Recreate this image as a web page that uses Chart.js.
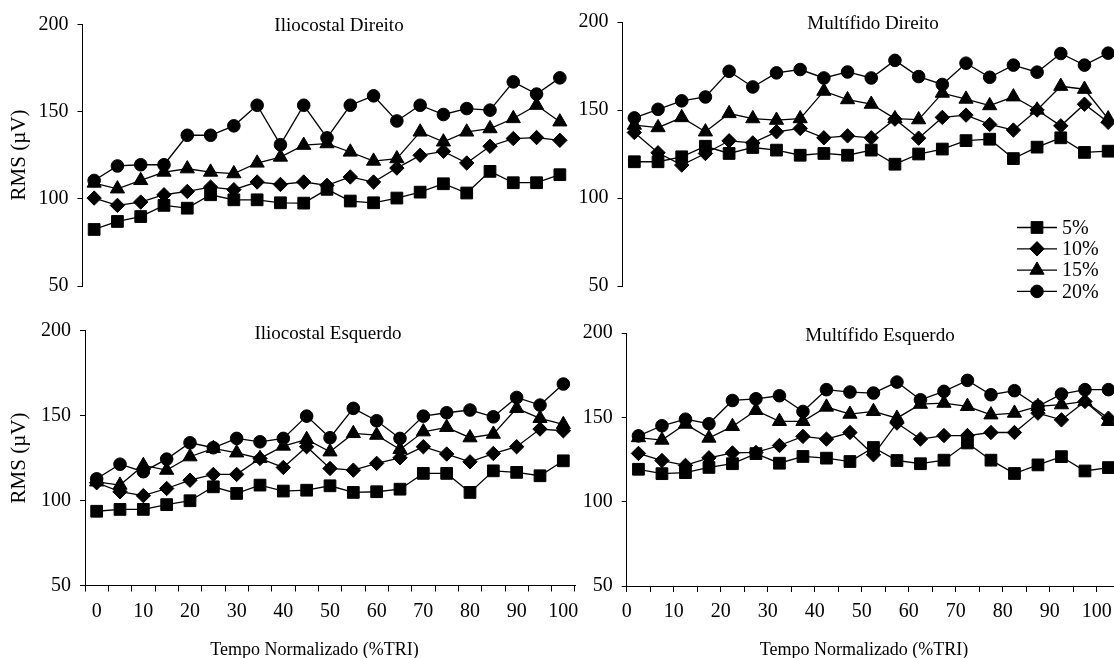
<!DOCTYPE html>
<html lang="pt">
<head>
<meta charset="utf-8">
<title>RMS x Tempo Normalizado</title>
<script src="https://cdn.jsdelivr.net/npm/chart.js@4.4.1/dist/chart.umd.min.js"></script>
<style>
  html, body { margin: 0; padding: 0; background: #fff; }
  body { width: 1114px; height: 658px; overflow: hidden; position: relative; }
  canvas { position: absolute; }
</style>
</head>
<body>
<canvas id="iliocostalDireito"></canvas>
<canvas id="multifidoDireito"></canvas>
<canvas id="iliocostalEsquerdo"></canvas>
<canvas id="multifidoEsquerdo"></canvas>
<script>
// Tempo normalizado (% TRI), em passos de 5 %
const tempo = [0, 5, 10, 15, 20, 25, 30, 35, 40, 45, 50, 55, 60, 65, 70, 75, 80, 85, 90, 95, 100];
const passo = 5;
const niveis = ['5%', '10%', '15%', '20%'];
const yTicks = [50, 100, 150, 200];

// RMS (µV) — Iliocostal Direito
const iliocostalDireito5  = [82.4, 87.0, 89.8, 96.2, 94.6, 102.3, 99.4, 99.4, 97.7, 97.5, 105.4, 98.7, 97.7, 100.4, 103.8, 108.6, 103.3, 115.7, 109.2, 109.2, 113.8];
const iliocostalDireito10 = [100.4, 96.2, 98.1, 102.3, 104.2, 106.7, 105.2, 109.6, 108.2, 109.6, 107.7, 112.5, 109.6, 117.6, 124.9, 127.2, 120.5, 130.1, 134.5, 135.1, 133.5];
const iliocostalDireito15 = [109.0, 105.7, 110.5, 115.3, 117.2, 115.3, 114.4, 120.5, 123.9, 130.7, 131.6, 126.8, 121.6, 123.0, 138.3, 132.6, 138.3, 140.2, 146.0, 153.6, 144.1];
const iliocostalDireito20 = [110.5, 118.8, 119.5, 119.5, 136.4, 136.4, 141.8, 153.6, 131.0, 153.6, 134.9, 153.6, 159.0, 144.6, 153.6, 148.3, 151.7, 150.8, 167.0, 160.0, 169.3];

// RMS (µV) — Multífido Direito
const multifidoDireito5  = [120.6, 120.6, 123.4, 129.4, 125.3, 128.7, 127.2, 124.3, 125.3, 124.3, 127.2, 119.2, 125.0, 127.8, 132.6, 133.4, 122.4, 128.9, 134.2, 125.9, 126.6];
const multifidoDireito10 = [137.2, 125.7, 118.7, 125.3, 132.5, 131.3, 137.6, 139.5, 134.2, 135.3, 134.2, 144.8, 134.0, 145.8, 147.1, 141.8, 138.6, 150.0, 141.0, 153.3, 143.0];
const multifidoDireito15 = [141.4, 140.0, 145.7, 137.6, 148.0, 145.1, 144.2, 145.1, 160.7, 155.9, 153.3, 145.1, 144.5, 159.6, 156.2, 152.5, 157.5, 150.0, 163.5, 161.8, 145.0];
const multifidoDireito20 = [145.5, 150.4, 155.2, 157.4, 172.0, 163.1, 171.1, 173.0, 168.2, 171.6, 168.2, 178.2, 169.0, 164.5, 176.6, 168.6, 175.5, 171.5, 182.1, 175.5, 182.3];

// RMS (µV) — Iliocostal Esquerdo
const iliocostalEsquerdo5  = [93.7, 94.8, 94.8, 97.6, 99.9, 108.1, 104.2, 109.1, 105.6, 106.1, 108.7, 104.8, 105.2, 106.7, 116.0, 116.0, 104.8, 117.5, 116.6, 114.6, 123.4];
const iliocostalEsquerdo10 = [110.5, 105.2, 102.9, 107.1, 112.0, 115.4, 115.4, 124.8, 119.5, 131.7, 118.9, 117.9, 121.9, 125.2, 131.7, 127.4, 122.8, 127.7, 131.7, 142.1, 141.1];
const iliocostalEsquerdo15 = [111.0, 109.1, 120.7, 117.9, 125.8, 130.7, 128.1, 124.8, 132.1, 136.0, 128.7, 139.5, 138.5, 130.1, 140.5, 143.1, 137.0, 139.1, 154.3, 148.4, 144.8];
const iliocostalEsquerdo20 = [112.8, 121.4, 117.0, 124.4, 134.0, 131.1, 136.6, 134.6, 136.6, 149.7, 137.0, 154.3, 147.0, 136.6, 149.7, 151.7, 153.3, 149.3, 160.7, 156.2, 168.6];

// RMS (µV) — Multífido Esquerdo
const multifidoEsquerdo5  = [119.2, 116.6, 117.2, 120.3, 122.5, 128.5, 122.8, 126.8, 125.8, 123.8, 132.1, 124.4, 122.5, 124.6, 134.8, 124.6, 116.7, 121.8, 126.7, 118.2, 120.2];
const multifidoEsquerdo10 = [128.6, 124.4, 121.5, 126.0, 128.9, 129.2, 133.3, 138.7, 137.1, 141.0, 127.8, 146.6, 137.1, 139.2, 139.2, 141.0, 141.0, 152.5, 148.5, 159.4, 149.5];
const multifidoEsquerdo15 = [138.0, 136.5, 146.0, 137.7, 144.6, 154.1, 147.6, 147.6, 156.1, 151.9, 153.5, 149.5, 157.8, 158.4, 156.5, 151.5, 152.5, 156.5, 157.5, 159.4, 147.6];
const multifidoEsquerdo20 = [139.0, 145.0, 148.9, 146.2, 160.0, 161.0, 162.8, 153.5, 166.4, 165.0, 164.4, 170.9, 160.4, 165.4, 171.9, 163.4, 165.8, 156.5, 163.8, 166.4, 166.4];

// Marker style for each level: square, diamond, triangle, circle
const marcadores = [
  { style: 'rect',     radius: 8.3 },
  { style: 'rectRot',  radius: 7.2 },
  { style: 'triangle', radius: 8.2 },
  { style: 'circle',   radius: 6.3 }
];

const FONTE = '"Liberation Serif", "Times New Roman", serif';
const TAM_TICK = 20;

function desenhaMarcador(ctx, m, x, y) {
  ctx.beginPath();
  const r = m.radius;
  if (m.style === 'rect') {
    const s = Math.SQRT1_2 * r;
    ctx.rect(x - s, y - s, 2 * s, 2 * s);
  } else if (m.style === 'rectRot') {
    ctx.moveTo(x - r, y); ctx.lineTo(x, y - r); ctx.lineTo(x + r, y); ctx.lineTo(x, y + r); ctx.closePath();
  } else if (m.style === 'triangle') {
    ctx.moveTo(x, y - r);
    ctx.lineTo(x + r * Math.sin(2 * Math.PI / 3), y - r * Math.cos(2 * Math.PI / 3));
    ctx.lineTo(x + r * Math.sin(4 * Math.PI / 3), y - r * Math.cos(4 * Math.PI / 3));
    ctx.closePath();
  } else {
    ctx.arc(x, y, r, 0, Math.PI * 2);
  }
  ctx.fill();
  ctx.stroke();
}

// Panel titles, axis titles and the series key
const textoPainel = {
  id: 'textoPainel',
  afterDraw(chart, args, o) {
    const ctx = chart.ctx;
    ctx.save();
    ctx.fillStyle = '#000';
    ctx.strokeStyle = '#000';
    if (o.titulo) {
      ctx.font = o.titulo.size + 'px ' + FONTE;
      ctx.textAlign = 'center';
      ctx.textBaseline = 'alphabetic';
      ctx.fillText(o.titulo.texto, o.titulo.x, o.titulo.y);
    }
    if (o.eixoX) {
      ctx.font = o.eixoX.size + 'px ' + FONTE;
      ctx.textAlign = 'center';
      ctx.textBaseline = 'alphabetic';
      ctx.fillText(o.eixoX.texto, o.eixoX.x, o.eixoX.y);
    }
    if (o.eixoY) {
      ctx.save();
      ctx.translate(o.eixoY.x, o.eixoY.y);
      ctx.rotate(-Math.PI / 2);
      ctx.font = o.eixoY.size + 'px ' + FONTE;
      ctx.textAlign = 'center';
      ctx.textBaseline = 'middle';
      ctx.fillText(o.eixoY.texto, 0, 0);
      ctx.restore();
    }
    if (o.legenda) {
      const L = o.legenda;
      ctx.font = L.size + 'px ' + FONTE;
      ctx.textAlign = 'left';
      ctx.textBaseline = 'middle';
      niveis.forEach((nome, i) => {
        const y = L.y + i * L.dy;
        ctx.lineWidth = 1.3;
        ctx.beginPath();
        ctx.moveTo(L.x1, y); ctx.lineTo(L.x2, y);
        ctx.stroke();
        ctx.lineWidth = 1;
        desenhaMarcador(ctx, marcadores[i], (L.x1 + L.x2) / 2, y);
        ctx.fillText(nome, L.xTexto, y + 1);
      });
    }
    ctx.restore();
  }
};

function criaPainel(id, cv, area, series, cfg) {
  const el = document.getElementById(id);
  el.width = cv.w; el.height = cv.h;
  el.style.left = cv.left + 'px';
  el.style.top = cv.top + 'px';
  el.style.width = cv.w + 'px';
  el.style.height = cv.h + 'px';

  const larguraY = area.l - cv.left;
  const padTop = area.t - cv.top;
  const padRight = cv.left + cv.w - area.r;
  const alturaX = cv.top + cv.h - area.b;
  const rel = (p) => p ? Object.assign({}, p, { x: p.x - cv.left, y: p.y - cv.top }) : undefined;

  const fonteTick = { family: FONTE, size: TAM_TICK };
  const categorias = cfg.labelsNoLimite !== true;
  const visivel = cfg.mostraX;

  const datasets = series.map((vals, i) => ({
    label: niveis[i],
    data: categorias ? vals : vals.map((v, k) => ({ x: tempo[k] + passo / 2, y: v })),
    borderColor: '#000',
    borderWidth: 1.3,
    backgroundColor: '#000',
    pointStyle: marcadores[i].style,
    pointRadius: marcadores[i].radius,
    pointHoverRadius: marcadores[i].radius,
    pointBackgroundColor: '#000',
    pointBorderColor: '#000',
    pointBorderWidth: 1,
    tension: 0,
    fill: false,
    clip: false
  }));

  const gradeX = { display: visivel, offset: categorias, drawOnChartArea: false, drawTicks: true, tickLength: 6, color: '#000', lineWidth: 1 };
  const bordaX = { display: visivel, color: '#000', width: 1 };

  let escalaX;
  if (categorias) {
    escalaX = {
      type: 'category',
      offset: true,
      grid: gradeX,
      border: bordaX,
      ticks: {
        display: visivel,
        autoSkip: false, maxRotation: 0, minRotation: 0, color: '#000', font: fonteTick, padding: 8,
        callback: (v, i) => (i % 2 === 0 ? String(tempo[i]) : '')
      },
      afterFit: (s) => { s.height = alturaX; }
    };
  } else {
    const limites = tempo.concat([tempo[tempo.length - 1] + passo]);
    escalaX = {
      type: 'linear',
      min: limites[0],
      max: limites[limites.length - 1],
      grid: gradeX,
      border: bordaX,
      afterBuildTicks: (s) => { s.ticks = limites.map(v => ({ value: v })); },
      ticks: {
        display: visivel,
        autoSkip: false, maxRotation: 0, minRotation: 0, color: '#000', font: fonteTick, padding: 8,
        callback: (v) => (v % 10 === 0 && v <= tempo[tempo.length - 1] ? String(v) : '')
      },
      afterFit: (s) => { s.height = alturaX; }
    };
  }

  return new Chart(el, {
    type: 'line',
    data: { labels: tempo.map(String), datasets },
    options: {
      responsive: false,
      animation: false,
      devicePixelRatio: 1,
      events: [],
      layout: { padding: { left: 0, right: padRight, top: padTop, bottom: 0 } },
      plugins: {
        legend: { display: false },
        tooltip: { enabled: false },
        title: { display: false },
        textoPainel: {
          titulo: rel(cfg.titulo),
          eixoX: rel(cfg.eixoX),
          eixoY: rel(cfg.eixoY),
          legenda: cfg.legenda ? Object.assign({}, cfg.legenda, {
            x1: cfg.legenda.x1 - cv.left, x2: cfg.legenda.x2 - cv.left,
            xTexto: cfg.legenda.xTexto - cv.left, y: cfg.legenda.y - cv.top
          }) : undefined
        }
      },
      scales: {
        x: escalaX,
        y: {
          type: 'linear',
          min: yTicks[0],
          max: yTicks[yTicks.length - 1],
          afterBuildTicks: (s) => { s.ticks = yTicks.map(v => ({ value: v })); },
          afterFit: (s) => { s.width = larguraY; },
          grid: { drawOnChartArea: false, drawTicks: true, tickLength: 5, color: '#000', lineWidth: 1 },
          border: { display: true, color: '#000', width: 1 },
          ticks: { color: '#000', font: fonteTick, padding: 9 }
        }
      }
    },
    plugins: [textoPainel]
  });
}

const rotuloY = 'RMS (\u00b5V)';
const rotuloX = 'Tempo Normalizado (%TRI)';

criaPainel('iliocostalDireito',
  { left: 0, top: 0, w: 590, h: 316 },
  { l: 82.5, t: 24.3, r: 571.5, b: 286 },
  [iliocostalDireito5, iliocostalDireito10, iliocostalDireito15, iliocostalDireito20],
  {
    mostraX: false,
    titulo: { texto: 'Iliocostal Direito', x: 339, y: 30.7, size: 19 },
    eixoY: { texto: rotuloY, x: 19, y: 155, size: 21 }
  });

criaPainel('multifidoDireito',
  { left: 560, top: 0, w: 580, h: 316 },
  { l: 622.5, t: 22, r: 1120, b: 286 },
  [multifidoDireito5, multifidoDireito10, multifidoDireito15, multifidoDireito20],
  {
    mostraX: false,
    labelsNoLimite: true,
    titulo: { texto: 'Multífido Direito', x: 873, y: 29, size: 19 },
    legenda: { x1: 1017, x2: 1057, xTexto: 1062, y: 227.5, dy: 21.3, size: 20 }
  });

criaPainel('iliocostalEsquerdo',
  { left: 0, top: 300, w: 590, h: 358 },
  { l: 85, t: 330.7, r: 575, b: 585.5 },
  [iliocostalEsquerdo5, iliocostalEsquerdo10, iliocostalEsquerdo15, iliocostalEsquerdo20],
  {
    mostraX: true,
    titulo: { texto: 'Iliocostal Esquerdo', x: 328, y: 339, size: 19 },
    eixoY: { texto: rotuloY, x: 19, y: 458, size: 21 },
    eixoX: { texto: rotuloX, x: 314.5, y: 655, size: 18 }
  });

criaPainel('multifidoEsquerdo',
  { left: 560, top: 300, w: 580, h: 358 },
  { l: 626.7, t: 333, r: 1120.2, b: 586 },
  [multifidoEsquerdo5, multifidoEsquerdo10, multifidoEsquerdo15, multifidoEsquerdo20],
  {
    mostraX: true,
    labelsNoLimite: true,
    titulo: { texto: 'Multífido Esquerdo', x: 880, y: 340.7, size: 19 },
    eixoX: { texto: rotuloX, x: 864, y: 655, size: 18 }
  });
</script>
</body>
</html>
